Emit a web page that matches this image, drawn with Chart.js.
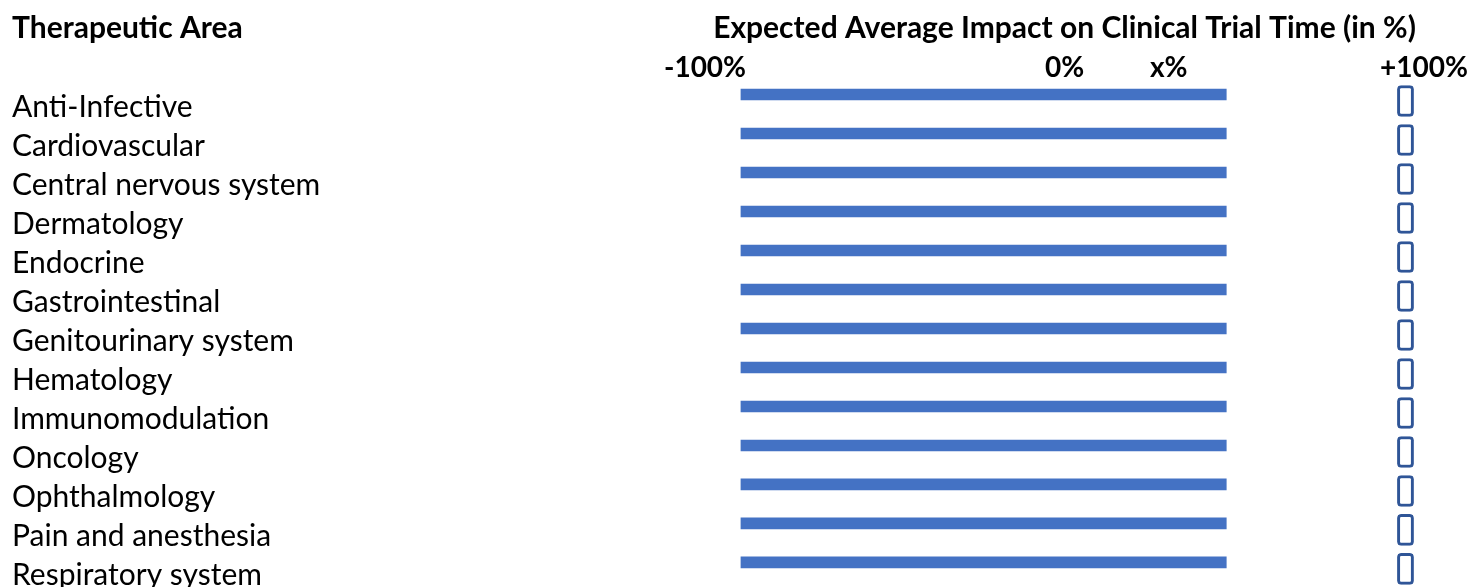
<!DOCTYPE html>
<html>
<head>
<meta charset="utf-8">
<script src="https://cdn.jsdelivr.net/npm/chart.js@4"></script>
<style>
  body { margin: 0; background: #fff; }
  #wrap { width: 1470px; height: 587px; }
</style>
</head>
<body>
<div id="wrap"><canvas id="myChart"></canvas></div>
<script>
let areas = [
  "Anti-Infective", "Cardiovascular", "Central nervous system", "Dermatology",
  "Endocrine", "Gastrointestinal", "Genitourinary system", "Hematology",
  "Immunomodulation", "Oncology", "Ophthalmology", "Pain and anesthesia",
  "Respiratory system"
];
let barStart = [-90, -90, -90, -90, -90, -90, -90, -90, -90, -90, -90, -90, -90];
let barEnd = [45, 45, 45, 45, 45, 45, 45, 45, 45, 45, 45, 45, 45];
let boxFrom = [92.6, 92.6, 92.6, 92.6, 92.6, 92.6, 92.6, 92.6, 92.6, 92.6, 92.6, 92.6, 92.6];
let boxTo = [97.1, 97.1, 97.1, 97.1, 97.1, 97.1, 97.1, 97.1, 97.1, 97.1, 97.1, 97.1, 97.1];
let tickValues = [-100, 0, 29, 100];
let tickLabels = ["-100%", "0%", "x%", "+100%"];

const FONT = "Lato";
const BOX_SHIFT = 0.167; // answer boxes sit a bit lower than the bars

// header on the left, same row as the axis title
const headerText = {
  id: "headerText",
  afterDraw(chart) {
    let ctx = chart.ctx;
    ctx.save();
    ctx.font = "bold 30px " + FONT;
    ctx.fillStyle = "#000";
    ctx.textBaseline = "middle";
    ctx.textAlign = "left";
    ctx.fillText("Therapeutic Area", 12, 28);
    ctx.restore();
  }
};

let bars = areas.map((a, i) => ({ y: i, x: [barStart[i], barEnd[i]] }));
let boxes = areas.map((a, i) => ({ y: i + BOX_SHIFT, x: [boxFrom[i], boxTo[i]] }));

const ctx = document.getElementById("myChart");
let myChart = new Chart(ctx, {
  type: "bar",
  data: {
    datasets: [
      {
        label: "range",
        data: bars,
        backgroundColor: "#4472C4",
        borderWidth: 0,
        barThickness: 11,
        grouped: false,
      },
      {
        label: "answer",
        data: boxes,
        backgroundColor: "#ffffff",
        borderColor: "#2F5597",
        borderWidth: 3,
        borderRadius: 4,
        borderSkipped: false,
        barThickness: 31,
        grouped: false,
      },
    ],
  },
  options: {
    indexAxis: "y",
    responsive: true,
    maintainAspectRatio: false,
    animation: false,
    layout: { padding: { left: 12, right: 46, top: 0, bottom: 0 } },
    scales: {
      x: {
        type: "linear",
        position: "top",
        min: -100,
        max: 100,
        grid: { display: false, drawTicks: false },
        border: { display: false },
        title: {
          display: true,
          text: "Expected Average Impact on Clinical Trial Time (in %)",
          color: "#000",
          font: { family: FONT, size: 30, weight: "bold" },
          padding: { top: 10, bottom: 0 },
        },
        afterBuildTicks: (scale) => {
          scale.ticks = tickValues.map((v) => ({ value: v }));
        },
        afterFit: (scale) => {
          scale.height = 84;
          scale.paddingLeft = 0;
          scale.paddingRight = 0;
        },
        ticks: {
          autoSkip: false,
          maxRotation: 0,
          padding: -1,
          color: "#000",
          font: { family: FONT, size: 28, weight: "bold" },
          callback: (value, index) => tickLabels[index],
        },
      },
      y: {
        type: "linear",
        reverse: true,
        offset: false,
        min: -0.27,
        max: 12.63,
        grid: { display: false, drawTicks: false },
        border: { display: false },
        afterBuildTicks: (scale) => {
          scale.ticks = areas.map((a, i) => ({ value: i }));
        },
        afterFit: (scale) => {
          scale.width = 693;
          scale.paddingTop = 0;
          scale.paddingBottom = 0;
        },
        ticks: {
          autoSkip: false,
          crossAlign: "far",
          labelOffset: 13,
          color: "#000",
          font: { family: FONT, size: 30 },
          callback: (value, index) => areas[index],
        },
      },
    },
    plugins: {
      legend: { display: false },
      tooltip: { enabled: false },
    },
  },
  plugins: [headerText],
});
</script>
</body>
</html>
